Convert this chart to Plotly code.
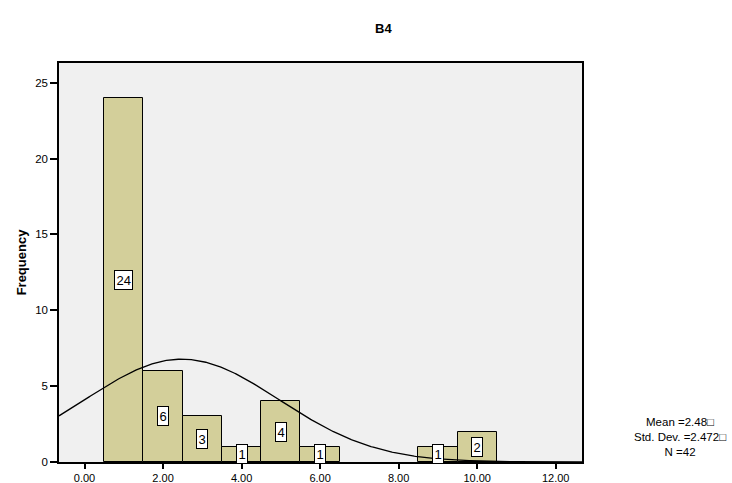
import numpy as np
import plotly.graph_objects as go

# Histogram data (bin centers, counts)
bin_centers = [1, 2, 3, 4, 5, 6, 9, 10]
counts = [24, 6, 3, 1, 4, 1, 1, 2]
bin_width = 1.0

mean_val = 2.48
std_val = 2.472
n_val = 42

x_tick_vals = [0, 2, 4, 6, 8, 10, 12]
x_tick_text = ["0.00", "2.00", "4.00", "6.00", "8.00", "10.00", "12.00"]
y_tick_vals = [0, 5, 10, 15, 20, 25]

BAR_COLOR = "#D3CF9A"
FONT = "Liberation Sans, Arial, sans-serif"

L, R, T, B = 59, 582, 63, 462  # plot area in pixels
W, H = 732, 483


def px_x(p):
    return (p - L) / (R - L)


def px_y(p):
    return (B - p) / (B - T)


fig = go.Figure()
fig.add_trace(go.Bar(
    x=bin_centers, y=counts, width=bin_width,
    marker=dict(color=BAR_COLOR, line=dict(color="black", width=1)),
    hoverinfo="x+y", showlegend=False,
))

# fitted normal curve from the reported mean / std. dev.
xr = (-0.65, 12.67)
xc = np.linspace(xr[0], xr[1], 400)
yc = n_val * bin_width / (std_val * np.sqrt(2 * np.pi)) * np.exp(-0.5 * ((xc - mean_val) / std_val) ** 2)
fig.add_trace(go.Scatter(x=xc, y=yc, mode="lines", line=dict(color="black", width=1.3),
                         showlegend=False, hoverinfo="skip"))

# count labels
for xv, cv in zip(bin_centers, counts):
    fig.add_annotation(x=xv, y=cv / 2, text=str(cv), showarrow=False,
                       font=dict(family=FONT, size=13, color="black"),
                       bgcolor="white", bordercolor="black", borderwidth=1, borderpad=1.5)

fig.add_annotation(xref="paper", yref="paper", x=px_x(383), y=px_y(29),
                   xanchor="center", yanchor="middle",
                   text="<b>B4</b>", showarrow=False, font=dict(family=FONT, size=13, color="black"))

stat_text = "Mean =%.2f\u25a1<br>Std. Dev. =%.3f\u25a1<br>N =%d" % (mean_val, std_val, n_val)
fig.add_annotation(xref="paper", yref="paper", x=px_x(680), y=px_y(437),
                   xanchor="center", yanchor="middle", align="center", text=stat_text,
                   showarrow=False, font=dict(family=FONT, size=11.5, color="black"))

fig.update_layout(
    width=W, height=H,
    margin=dict(l=L, r=W - R, t=T, b=H - B),
    paper_bgcolor="white", plot_bgcolor="#F0F0F0",
    font=dict(family=FONT, size=11, color="black"),
    bargap=0,
    xaxis=dict(range=list(xr), tickvals=x_tick_vals, ticktext=x_tick_text, automargin=False,
               showgrid=False, zeroline=False, showline=True, linecolor="black", linewidth=1.5,
               mirror=True, ticks="outside", ticklen=5, tickcolor="black", tickwidth=1.5,
               tickfont=dict(size=11)),
    yaxis=dict(range=[0, 26.3], tickvals=y_tick_vals, showgrid=False, zeroline=False, automargin=False,
               showline=True, linecolor="black", linewidth=1.5, mirror=True,
               ticks="outside", ticklen=7, tickcolor="black", tickwidth=1.5,
               tickfont=dict(size=11.5),
               title=dict(text="<b>Frequency</b>", font=dict(size=13), standoff=6)),
)

fig.write_html("out.html", config={"displayModeBar": False},
               post_script="document.body.style.margin='0';document.body.style.overflow='hidden';")
